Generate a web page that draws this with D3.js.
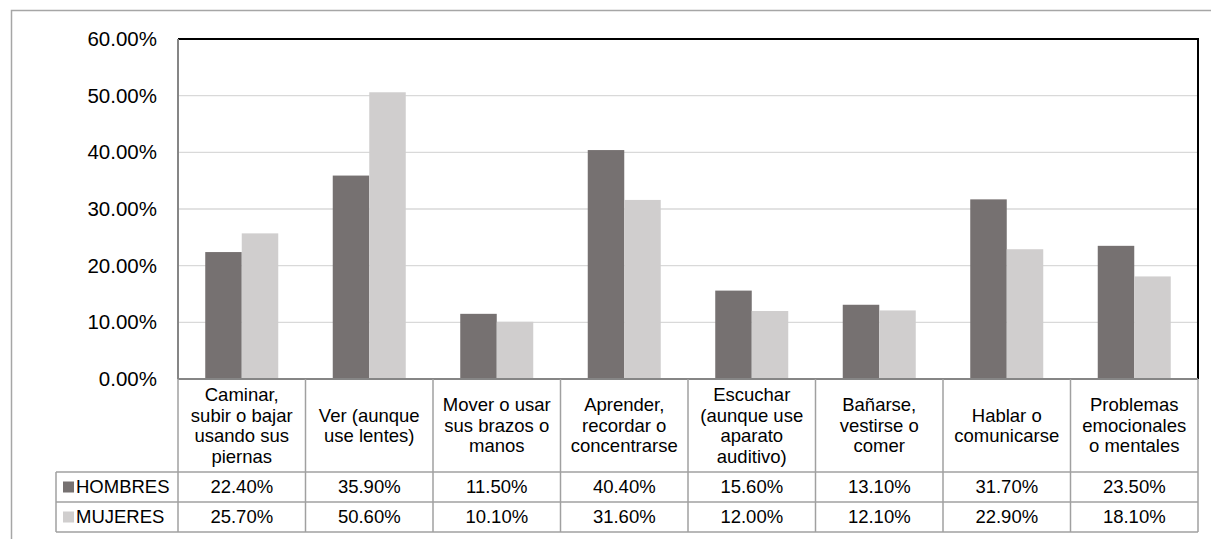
<!DOCTYPE html>
<html>
<head>
<meta charset="utf-8">
<script src="https://cdn.jsdelivr.net/npm/d3@7"></script>
<style>
  body { margin: 0; background: #fff; }
  svg text { font-family: "Liberation Sans", Arial, sans-serif; fill: #000; }
</style>
</head>
<body>
<div id="chart"></div>
<script>
// Data
const categories = [
    ["Caminar,", "subir o bajar", "usando sus", "piernas"],
    ["Ver (aunque", "use lentes)"],
    ["Mover o usar", "sus brazos o", "manos"],
    ["Aprender,", "recordar o", "concentrarse"],
    ["Escuchar", "(aunque use", "aparato", "auditivo)"],
    ["Bañarse,", "vestirse o", "comer"],
    ["Hablar o", "comunicarse"],
    ["Problemas", "emocionales", "o mentales"]
];
const seriesNames = ["HOMBRES", "MUJERES"];
const hombres = [22.4, 35.9, 11.5, 40.4, 15.6, 13.1, 31.7, 23.5];
const mujeres = [25.7, 50.6, 10.1, 31.6, 12.0, 12.1, 22.9, 18.1];
const yTicks = [0, 10, 20, 30, 40, 50, 60];

const width = 1211, height = 539;
const colors = { HOMBRES: "#767171", MUJERES: "#D0CECE" };
const gridColor = "#D9D9D9";
const lineColor = "#A0A0A0";

const plot = { left: 178, right: 1198, top: 39, bottom: 379 };
const table = { left: 56, headerBottom: 472, rowH: 30 };

const svg = d3.select("#chart")
    .append("svg")
    .attr("width", width)
    .attr("height", height);

// Outer chart frame (partly cut off on right and bottom)
svg.append("rect")
    .attr("x", 11.5).attr("y", 10.5)
    .attr("width", width + 20).attr("height", height + 20)
    .attr("fill", "none")
    .attr("stroke", "#A6A6A6")
    .attr("stroke-width", 1.5);

/**********/
/* Scales */
/**********/
const idx = d3.range(categories.length);
const xScale = d3.scaleBand()
    .domain(idx)
    .range([plot.left, plot.right])
    .padding(0);

const groupPad = xScale.bandwidth() * 0.2137;
const xSub = d3.scaleBand()
    .domain(seriesNames)
    .range([groupPad, xScale.bandwidth() - groupPad])
    .padding(0);

const yScale = d3.scaleLinear()
    .domain([0, 60])
    .range([plot.bottom, plot.top]);

/*************/
/* Gridlines */
/*************/
svg.append("g")
    .selectAll("line")
    .data(yTicks.filter(t => t > 0 && t < 60))
    .join("line")
        .attr("x1", plot.left)
        .attr("x2", plot.right)
        .attr("y1", d => yScale(d))
        .attr("y2", d => yScale(d))
        .attr("stroke", gridColor)
        .attr("stroke-width", 1.3);

/********/
/* Bars */
/********/
const values = { HOMBRES: hombres, MUJERES: mujeres };
const barData = idx.flatMap(i => seriesNames.map(s => ({ i, s, v: values[s][i] })));

svg.append("g")
    .selectAll("rect")
    .data(barData)
    .join("rect")
        .attr("x", d => xScale(d.i) + xSub(d.s))
        .attr("y", d => yScale(d.v))
        .attr("width", xSub.bandwidth())
        .attr("height", d => yScale(0) - yScale(d.v))
        .attr("fill", d => colors[d.s]);

/********/
/* Axes */
/********/
const leftAxis = d3.axisLeft(yScale)
    .tickValues(yTicks)
    .tickSize(0)
    .tickPadding(21)
    .tickFormat(d => d.toFixed(2) + "%");

const yAxisG = svg.append("g")
    .attr("transform", `translate(${plot.left},0)`)
    .call(leftAxis);
yAxisG.select(".domain").remove();
yAxisG.selectAll("text")
    .attr("font-size", 20.5)
    .attr("font-family", "Liberation Sans, Arial, sans-serif")
    .attr("fill", "#000");

// Plot frame: black top and right, gray left and bottom
svg.append("line")
    .attr("x1", plot.left).attr("x2", plot.right + 1)
    .attr("y1", plot.top).attr("y2", plot.top)
    .attr("stroke", "#000").attr("stroke-width", 2);
svg.append("line")
    .attr("x1", plot.right).attr("x2", plot.right)
    .attr("y1", plot.top).attr("y2", plot.bottom)
    .attr("stroke", "#000").attr("stroke-width", 2);
svg.append("line")
    .attr("x1", plot.left).attr("x2", plot.left)
    .attr("y1", plot.top).attr("y2", plot.bottom)
    .attr("stroke", "#868686").attr("stroke-width", 2);

/*****************/
/* Data table    */
/*****************/
const tableG = svg.append("g");
const rowsTop = table.headerBottom;
const tableBottom = rowsTop + seriesNames.length * table.rowH;

// horizontal lines
tableG.append("line")
    .attr("x1", plot.left).attr("x2", plot.right)
    .attr("y1", plot.bottom).attr("y2", plot.bottom)
    .attr("stroke", "#868686").attr("stroke-width", 2);
tableG.selectAll("line.hrow")
    .data(d3.range(seriesNames.length + 1))
    .join("line")
        .attr("class", "hrow")
        .attr("x1", table.left).attr("x2", plot.right)
        .attr("y1", d => rowsTop + d * table.rowH)
        .attr("y2", d => rowsTop + d * table.rowH)
        .attr("stroke", lineColor).attr("stroke-width", 1.5);

// vertical lines at every category boundary
tableG.selectAll("line.vcol")
    .data(d3.range(categories.length + 1))
    .join("line")
        .attr("class", "vcol")
        .attr("x1", d => d < categories.length ? xScale(d) : plot.right)
        .attr("x2", d => d < categories.length ? xScale(d) : plot.right)
        .attr("y1", plot.bottom).attr("y2", tableBottom)
        .attr("stroke", lineColor).attr("stroke-width", 1.5);
tableG.append("line")
    .attr("x1", table.left).attr("x2", table.left)
    .attr("y1", rowsTop).attr("y2", tableBottom)
    .attr("stroke", lineColor).attr("stroke-width", 1.5);

// category labels
const lineH = 20.5;
const headerMid = (plot.bottom + table.headerBottom) / 2;
tableG.selectAll("text.cat")
    .data(categories)
    .join("text")
        .attr("class", "cat")
        .attr("text-anchor", "middle")
        .attr("font-size", 18.5)
        .each(function (lines, i) {
            const t = d3.select(this);
            const y0 = headerMid - (lines.length - 1) * lineH / 2;
            lines.forEach((ln, k) => {
                t.append("tspan")
                    .attr("x", xScale(i) + xScale.bandwidth() / 2)
                    .attr("y", y0 + k * lineH)
                    .attr("dy", "0.35em")
                    .text(ln);
            });
        });

// legend keys and value rows
seriesNames.forEach((s, r) => {
    const yMid = rowsTop + r * table.rowH + table.rowH / 2;
    tableG.append("rect")
        .attr("x", 63).attr("y", yMid - 5.5)
        .attr("width", 11).attr("height", 11)
        .attr("fill", colors[s]);
    tableG.append("text")
        .attr("x", 76).attr("y", yMid)
        .attr("dy", "0.35em")
        .attr("font-size", 18.5)
        .text(s);
    tableG.selectAll(`text.val${r}`)
        .data(values[s])
        .join("text")
            .attr("class", `val${r}`)
            .attr("x", (d, i) => xScale(i) + xScale.bandwidth() / 2)
            .attr("y", yMid)
            .attr("dy", "0.35em")
            .attr("text-anchor", "middle")
            .attr("font-size", 18.5)
            .text(d => d.toFixed(2) + "%");
});
</script>
</body>
</html>
